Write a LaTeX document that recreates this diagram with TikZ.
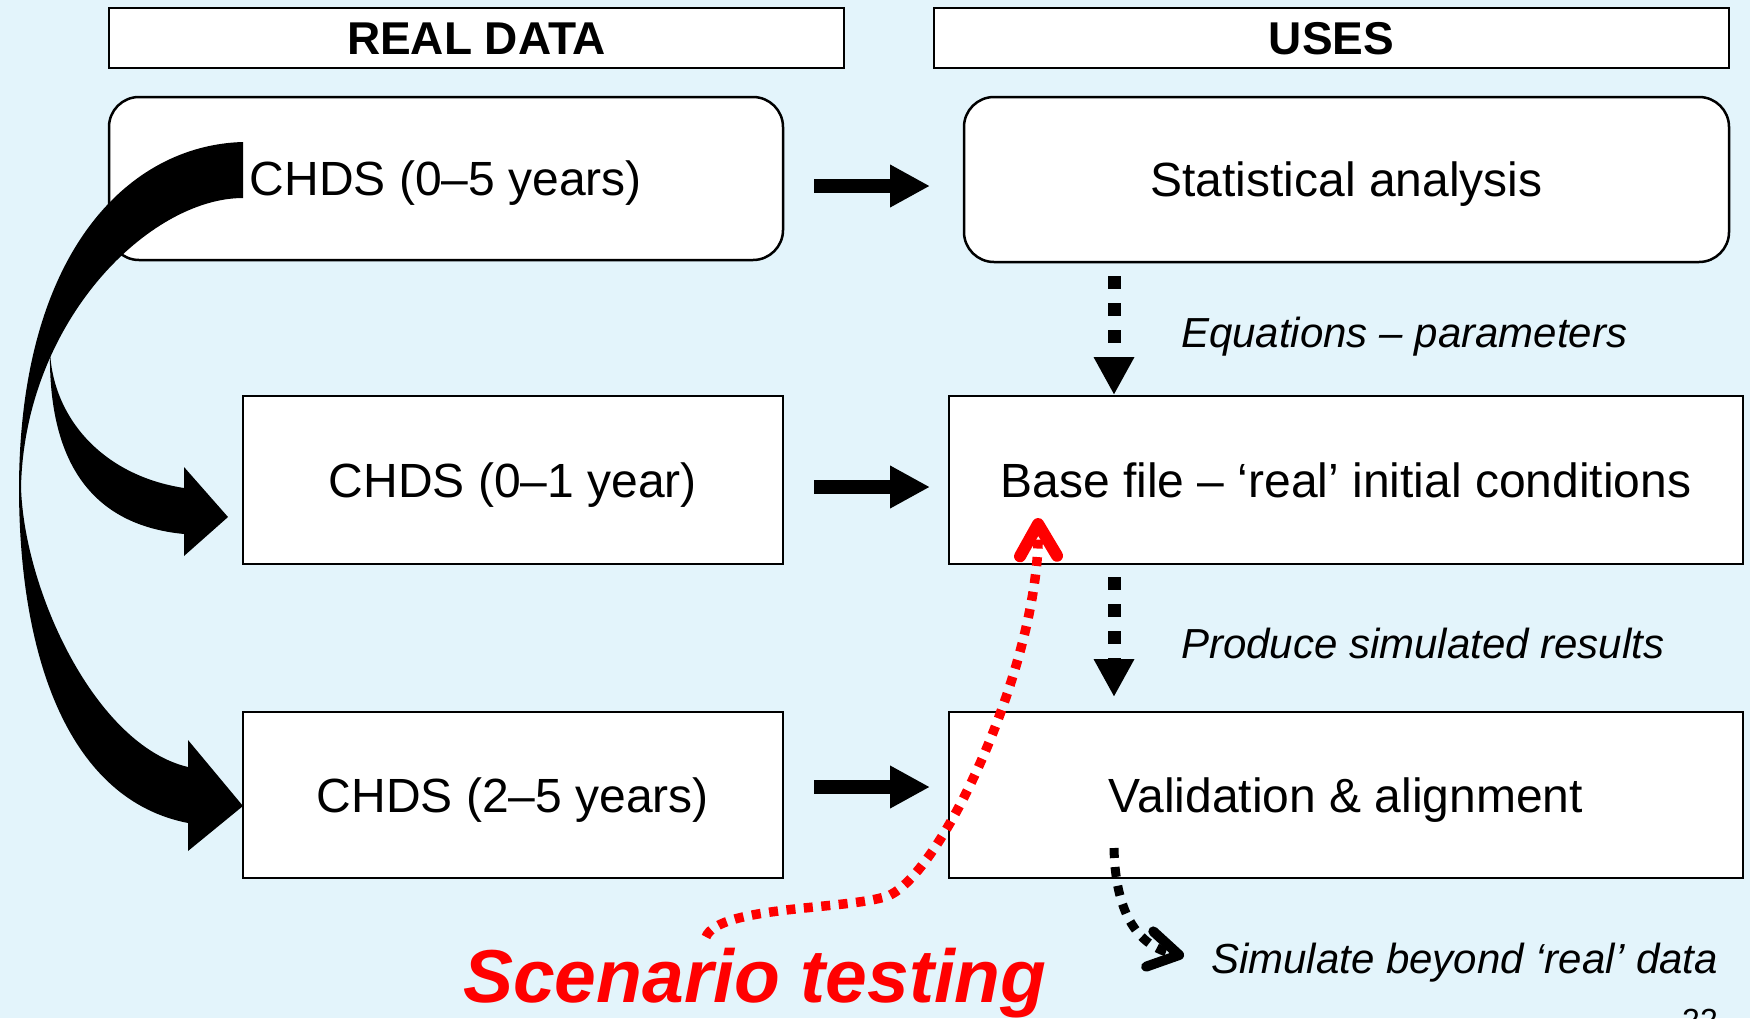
\documentclass[tikz,border=0pt]{standalone}
\usepackage{fontspec}
\setmainfont{Liberation Sans}
\usetikzlibrary{arrows.meta,calc}
\definecolor{bg}{HTML}{E3F4FB}
\definecolor{scred}{HTML}{FF0000}
\begin{document}
\begin{tikzpicture}[x=1pt,y=-1pt,
  box/.style={draw=black, line width=2.5pt, fill=white, inner sep=0pt, outer sep=0pt,
    text height=34.4pt, text depth=0pt, font=\fontsize{48}{56}\selectfont},
  rbox/.style={box, rounded corners=30pt},
  hbox/.style={draw=black, line width=2pt, fill=white, inner sep=0pt, outer sep=0pt,
    text height=33pt, text depth=0pt, font=\bfseries\fontsize{46}{54}\selectfont},
  lbl/.style={anchor=base west, inner sep=0pt, font=\itshape\fontsize{42}{50}\selectfont},
  thickarrow/.style={line width=14pt, -{Triangle[length=40pt,width=40pt]}},
  dotarrow/.style={line width=13pt, dash pattern=on 13pt off 14pt, -{Triangle[length=38pt,width=38pt]}},
  simdot/.style={line width=9pt, dash pattern=on 10pt off 9pt, -{Straight Barb[length=30pt,width=36pt,line width=10pt,round]}},
  reddot/.style={draw=scred, line width=9.5pt, dash pattern=on 9pt off 8.5pt, -{Straight Barb[length=32pt,width=37pt,line width=12pt,round]}}
]
\useasboundingbox (0,0) rectangle (1750,1018);
\clip (0,0) rectangle (1750,1018);
\fill[bg] (0,0) rectangle (1750,1018);

% headers
\node[hbox, minimum width=735pt, minimum height=60pt] (hreal) at (476.5,38) {REAL DATA};
\node[hbox, minimum width=795pt, minimum height=60pt] (huses) at (1331.5,38) {USES};

% boxes
\node[rbox, minimum width=674pt, minimum height=163pt] (c05) at (446,178.5) {CHDS (0–5 years)};
\node[rbox, minimum width=765pt, minimum height=165pt] (stat) at (1346.5,179.5) {Statistical analysis};
\node[box, minimum width=540pt, minimum height=168pt] (c01) at (513,480) {CHDS (0–1 year)};
\node[box, minimum width=794pt, minimum height=168pt] (base) at (1346,480) {Base file – ‘real’ initial conditions};
\node[box, minimum width=540pt, minimum height=166pt] (c25) at (513,795) {CHDS (2–5 years)};
\node[box, minimum width=794pt, minimum height=166pt] (val) at (1346,795) {Validation \& alignment};

% big curved ribbon arrows on the left (drawn as shapes)
\fill[black] (243,142) .. controls (130,145) and (20,250) .. (19,487)
  -- (21,487) .. controls (25,320) and (150,198) .. (243,198) -- cycle;
\fill[black] (19,487) .. controls (19,660) and (70,800) .. (188,823)
  -- (188,851) -- (243,806) -- (188,740) -- (188,767)
  .. controls (95,745) and (24,590) .. (21,487) -- cycle;
\fill[black] (50,350) .. controls (48,460) and (90,525) .. (184,534)
  -- (184,556) -- (228,517) -- (184,467) -- (184,488)
  .. controls (100,475) and (52,415) .. (50,350) -- cycle;

% horizontal arrows
\draw[thickarrow] ($(c05.east)+(31,7.5)$) -- ($(c05.east -| stat.west)+(-34,7.5)$);
\draw[thickarrow] ($(c01.east)+(31,7)$) -- ($(c01.east -| base.west)+(-19,7)$);
\draw[thickarrow] ($(c25.east)+(31,-8)$) -- ($(c25.east -| val.west)+(-19,-8)$);

% dotted vertical arrows
\coordinate (dx) at (1114,0);
\draw[dotarrow] ($(stat.south -| dx)+(0,14)$) -- ($(base.north -| dx)+(0,-1)$);
\draw[dotarrow] ($(base.south -| dx)+(0,13)$) -- ($(val.north -| dx)+(0,-15)$);

% labels
\node[lbl] (eqlbl) at (1181,347) {Equations – parameters};
\node[lbl] (prlbl) at (1181,658) {Produce simulated results};
\node[lbl] (sim) at (1211,973) {Simulate beyond ‘real’ data};
\node[anchor=base west, inner sep=0pt, text=scred, font=\bfseries\itshape\fontsize{75}{80}\selectfont] (scen) at (463,1002) {Scenario testing};
\node[anchor=base west, inner sep=0pt, font=\fontsize{32}{36}\selectfont] (pg) at (1682,1031) {22};

% simulate-beyond arrow
\coordinate (ss) at ($(val.south -| dx)+(0,-30)$);
\coordinate (se) at ($(sim.base west)+(-27,-17)$);
\draw[simdot] (ss) .. controls ($(ss)+(1,52)$) and ($(se)+(-54,-11)$) .. (se);

% scenario red arrow
\coordinate (rs) at ($(scen.base west)+(243,-65)$);
\coordinate (re) at ($(base.south)+(-308,-46)$);
\draw[reddot] (rs) .. controls ($(rs)+(12,-32)$) and ($(rs)+(149,-27)$) .. ($(rs)+(184,-42)$)
  .. controls ($(rs)+(239,-69)$) and ($(re)+(2,142)$) .. (re);
\end{tikzpicture}
\end{document}
